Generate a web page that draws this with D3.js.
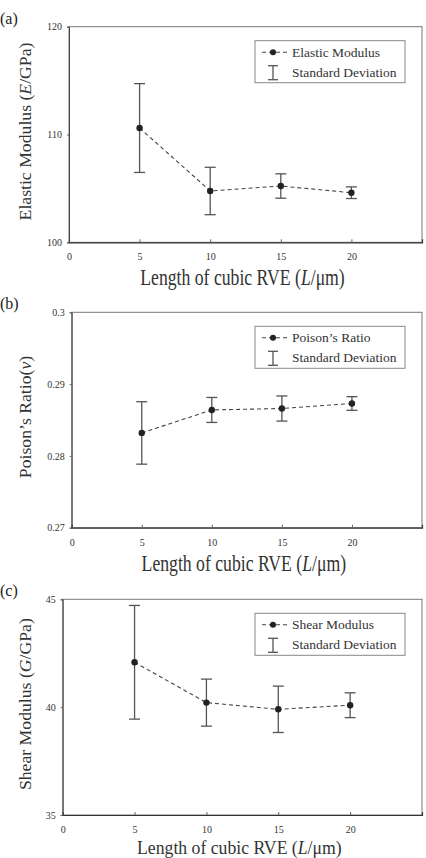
<!DOCTYPE html>
<html>
<head>
<meta charset="utf-8">
<script src="https://cdn.jsdelivr.net/npm/d3@7"></script>
<style>
  body { margin: 0; background: #fff; }
  svg { display: block; font-family: "Liberation Serif", "Times New Roman", serif; }
</style>
</head>
<body>
<svg id="chart" width="426" height="858"></svg>
<script>
// data
const lengths = [5, 10, 15, 20];
const xTicks = [0, 5, 10, 15, 20];

const elasticMean = [110.6, 104.76, 105.22, 104.6];
const elasticSd = [4.12, 2.2, 1.13, 0.54];
const elasticTicks = [100, 110, 120];

const poissonMean = [0.2832, 0.2864, 0.2866, 0.2873];
const poissonSd = [0.00435, 0.00174, 0.00175, 0.00095];
const poissonTicks = [0.27, 0.28, 0.29, 0.3];

const shearMean = [42.08, 40.21, 39.9, 40.09];
const shearSd = [2.635, 1.09, 1.075, 0.575];
const shearTicks = [35, 40, 45];

const svg = d3.select("#chart");

const panels = [
  {
    tag: "(a)", mean: elasticMean, sd: elasticSd, ticks: elasticTicks,
    fmt: d3.format("d"), legend: "Elastic Modulus",
    yTitle: ["Elastic Modulus (", "E", "/GPa)"],
    left: 69, right: 422, top: 26.7, bottom: 242.3, titleY: 285, titleScale: 1.28
  },
  {
    tag: "(b)", mean: poissonMean, sd: poissonSd, ticks: poissonTicks,
    fmt: (d) => (d === 0.3 ? "0.3" : d3.format(".2f")(d)), legend: "Poison\u2019s Ratio",
    yTitle: ["Poison\u2019s Ratio(", "\u03bd", ")"],
    left: 71.7, right: 422, top: 312.3, bottom: 527.7, titleY: 570.5, titleScale: 1.28
  },
  {
    tag: "(c)", mean: shearMean, sd: shearSd, ticks: shearTicks,
    fmt: d3.format("d"), legend: "Shear Modulus",
    yTitle: ["Shear Modulus (", "G", "/GPa)"],
    left: 62.7, right: 422, top: 599.3, bottom: 815, titleY: 854, titleScale: 1.1
  }
];

function drawPanel(p) {
  const g = svg.append("g");
  const x = d3.scaleLinear().domain([0, 25]).range([p.left, p.right]);
  const y = d3.scaleLinear()
    .domain([p.ticks[0], p.ticks[p.ticks.length - 1]])
    .range([p.bottom, p.top]);

  const rows = lengths.map((l, i) => ({ x: l, m: p.mean[i], s: p.sd[i] }));

  // plot frame
  g.append("rect")
    .attr("x", p.left).attr("y", p.top)
    .attr("width", p.right - p.left).attr("height", p.bottom - p.top)
    .attr("fill", "none").attr("stroke", "#777").attr("stroke-width", 1);

  // x axis
  const xAxis = g.append("g")
    .attr("transform", `translate(0,${p.bottom})`)
    .call(d3.axisBottom(x).tickValues(xTicks).tickSize(-3).tickPadding(11));
  xAxis.select(".domain").attr("stroke", "#333").attr("stroke-width", 1.2);
  xAxis.selectAll(".tick line").attr("stroke", "#666");
  xAxis.selectAll("text")
    .attr("font-size", "10px").attr("fill", "#333")
    .attr("font-family", "Liberation Serif");

  // y axis
  const yAxis = g.append("g")
    .attr("transform", `translate(${p.left},0)`)
    .call(d3.axisLeft(y).tickValues(p.ticks).tickFormat(p.fmt).tickSize(2).tickPadding(5));
  yAxis.select(".domain").attr("stroke", "#444");
  yAxis.selectAll(".tick line").attr("stroke", "#666");
  yAxis.selectAll("text")
    .attr("font-size", "10px").attr("fill", "#333")
    .attr("font-family", "Liberation Serif");

  // dashed connecting line
  const line = d3.line().x((d) => x(d.x)).y((d) => y(d.m));
  g.append("path")
    .datum(rows)
    .attr("d", line)
    .attr("fill", "none")
    .attr("stroke", "#444")
    .attr("stroke-width", 1.1)
    .attr("stroke-dasharray", "4,3");

  // error bars
  const bars = g.selectAll(".err").data(rows).join("g").attr("class", "err")
    .attr("stroke", "#555").attr("stroke-width", 1.3);
  bars.append("line")
    .attr("x1", (d) => x(d.x)).attr("x2", (d) => x(d.x))
    .attr("y1", (d) => y(d.m + d.s)).attr("y2", (d) => y(d.m - d.s));
  bars.append("line")
    .attr("x1", (d) => x(d.x) - 5.5).attr("x2", (d) => x(d.x) + 5.5)
    .attr("y1", (d) => y(d.m + d.s)).attr("y2", (d) => y(d.m + d.s));
  bars.append("line")
    .attr("x1", (d) => x(d.x) - 5.5).attr("x2", (d) => x(d.x) + 5.5)
    .attr("y1", (d) => y(d.m - d.s)).attr("y2", (d) => y(d.m - d.s));

  // points
  g.selectAll(".pt").data(rows).join("circle").attr("class", "pt")
    .attr("cx", (d) => x(d.x)).attr("cy", (d) => y(d.m))
    .attr("r", 3.2).attr("fill", "#222");

  // legend
  const lx = 255, ly = p.top + 14;
  const lg = g.append("g").attr("transform", `translate(${lx},${ly})`);
  lg.append("rect")
    .attr("width", 150).attr("height", 42)
    .attr("fill", "#fff").attr("stroke", "#888").attr("stroke-width", 1);
  lg.append("line")
    .attr("x1", 7).attr("x2", 32).attr("y1", 11.5).attr("y2", 11.5)
    .attr("stroke", "#444").attr("stroke-width", 1.1).attr("stroke-dasharray", "4,3");
  lg.append("circle").attr("cx", 18).attr("cy", 11.5).attr("r", 3).attr("fill", "#222");
  lg.append("text").attr("x", 37).attr("y", 16)
    .attr("font-size", "13.5px").attr("fill", "#333").text(p.legend);
  const ey1 = 25, ey2 = 39;
  const eb = lg.append("g").attr("stroke", "#555").attr("stroke-width", 1.3);
  eb.append("line").attr("x1", 18).attr("x2", 18).attr("y1", ey1).attr("y2", ey2);
  eb.append("line").attr("x1", 13).attr("x2", 23).attr("y1", ey1).attr("y2", ey1);
  eb.append("line").attr("x1", 13).attr("x2", 23).attr("y1", ey2).attr("y2", ey2);
  lg.append("text").attr("x", 37).attr("y", 36)
    .attr("font-size", "13.5px").attr("fill", "#333").text("Standard Deviation");

  // x title (the figure's lettering is a little tall, so stretch it)
  const xt = g.append("text")
    .attr("transform", `translate(${(p.left + p.right) / 2 - 3},${p.titleY}) scale(1,${p.titleScale})`)
    .attr("text-anchor", "middle")
    .attr("font-size", "17.7px").attr("fill", "#333");
  xt.append("tspan").text("Length of cubic RVE (");
  xt.append("tspan").attr("font-style", "italic").text("L");
  xt.append("tspan").text("/\u03bcm)");

  // y title
  const cy = (p.top + p.bottom) / 2 - 3;
  const yt = g.append("text")
    .attr("transform", `translate(31,${cy}) rotate(-90)`)
    .attr("text-anchor", "middle")
    .attr("font-size", "17.7px").attr("fill", "#333");
  yt.append("tspan").text(p.yTitle[0]);
  yt.append("tspan").attr("font-style", "italic").text(p.yTitle[1]);
  yt.append("tspan").text(p.yTitle[2]);

  // panel tag
  g.append("text")
    .attr("x", 0).attr("y", p.top - 3)
    .attr("font-size", "16px").attr("fill", "#222").text(p.tag);
}

panels.forEach(drawPanel);
</script>
</body>
</html>
